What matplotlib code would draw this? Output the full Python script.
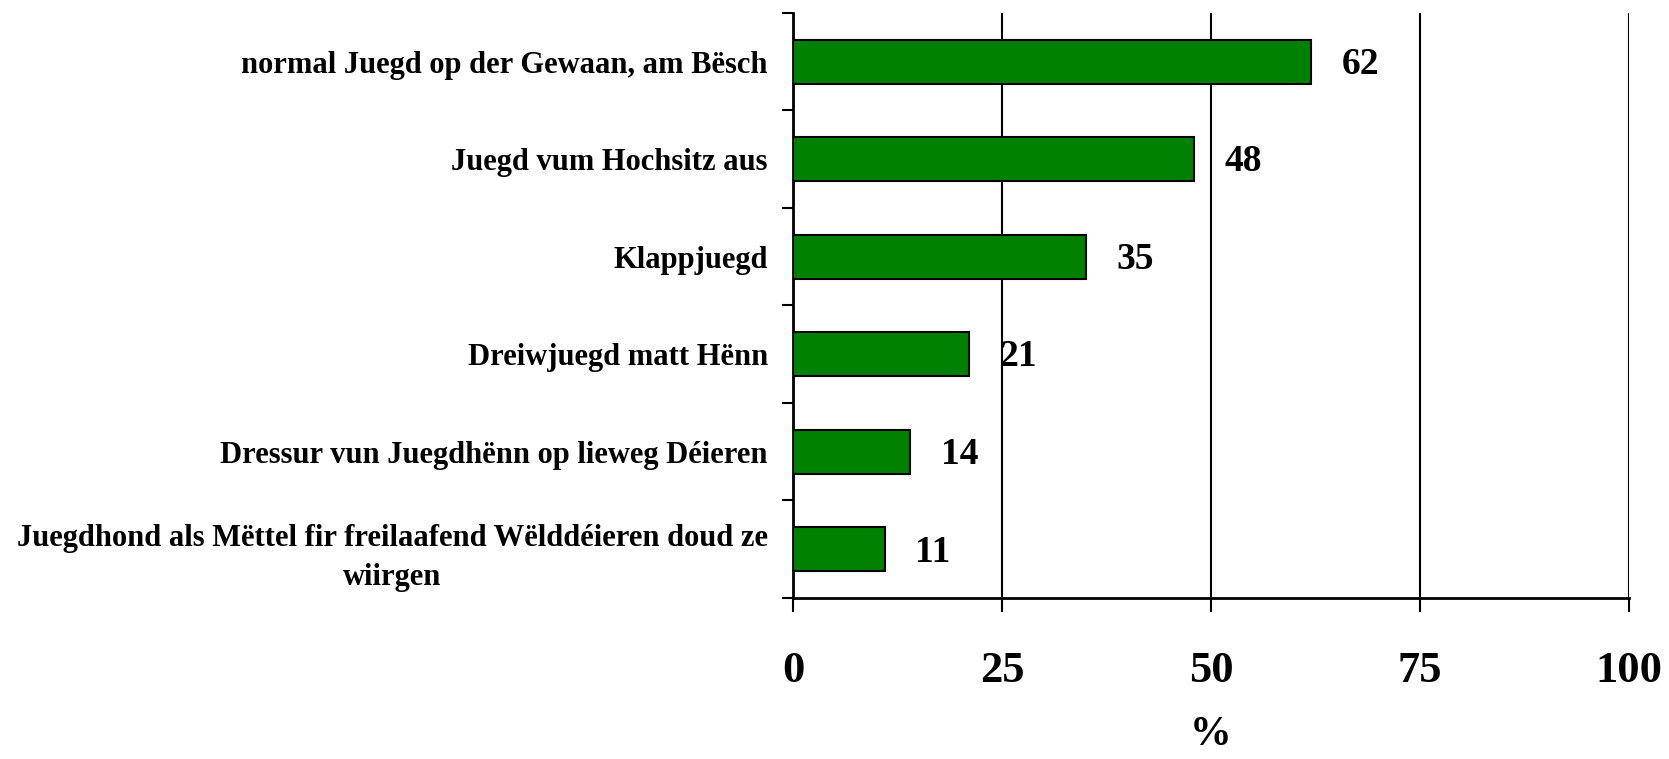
import numpy as np
import matplotlib.pyplot as plt
from matplotlib import rc

# categories top to bottom, values in %
labels = ["normal Juegd op der Gewaan, am Bësch",
          "Juegd vum Hochsitz aus",
          "Klappjuegd",
          "Dreiwjuegd matt Hënn",
          "Dressur vun Juegdhënn op lieweg Déieren",
          "Juegdhond als Mëttel fir freilaafend Wëlddéieren doud ze\nwiirgen"]
values = [62, 48, 35, 21, 14, 11]
xticks = [0, 25, 50, 75, 100]

rc('font', **{'family': 'Liberation Serif', 'weight': 'bold'})

fig = plt.figure(figsize=(16.69, 7.59), dpi=100)
ax = fig.add_axes([0.4751, 0.2121, 0.976 - 0.4751, 0.983 - 0.2121])

y = np.arange(len(values))
ax.barh(y, values, height=0.45, color='#008000', edgecolor='black',
        linewidth=1.5, zorder=3)

for yi, v in zip(y, values):
    ax.annotate(str(v), (v, yi), xytext=(22, -2), textcoords='offset points',
                ha='left', va='center', fontsize=27, fontweight='bold')

ax.set_ylim(len(values) - 0.5, -0.5)
ax.set_xlim(0, 100)

ax.set_yticks(y)
ax.set_yticklabels(labels, fontsize=22, multialignment='center',
                   linespacing=1.45)
ax.set_yticks(np.arange(len(values) + 1) - 0.5, minor=True)
ax.tick_params(axis='y', which='major', length=0, pad=18)
ax.tick_params(axis='y', which='minor', length=8, width=1.5, direction='out')

ax.set_xticks(xticks)
ax.set_xticklabels([str(t) for t in xticks], fontsize=32)
ax.tick_params(axis='x', length=10, width=1.5, direction='out', pad=28)
ax.xaxis.grid(True, color='black', linewidth=1.5, zorder=0)

for side in ['top', 'right']:
    ax.spines[side].set_visible(False)
for side in ['left', 'bottom']:
    ax.spines[side].set_linewidth(2)

ax.set_xlabel('%', fontsize=30, fontweight='bold', labelpad=18)

fig.savefig('out.png', dpi=100)
